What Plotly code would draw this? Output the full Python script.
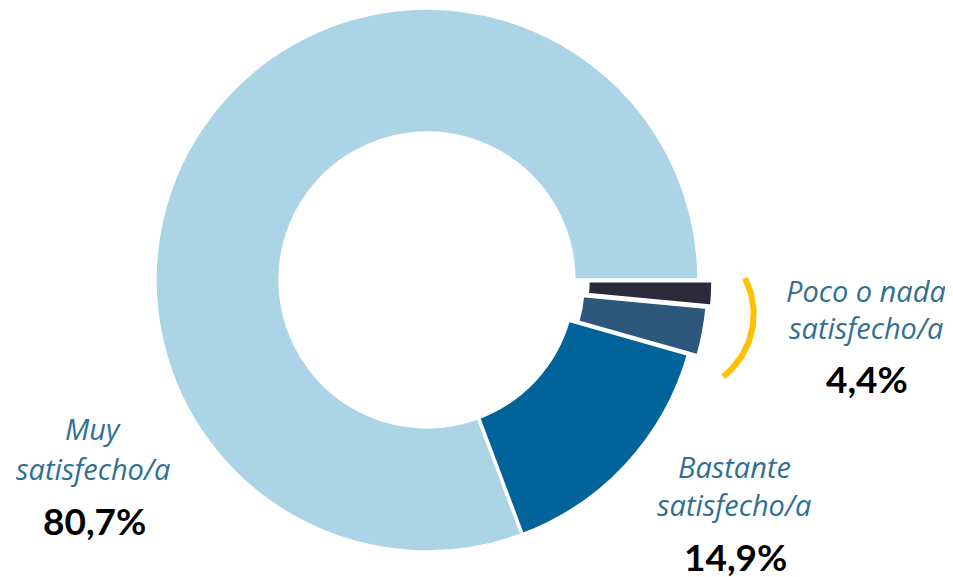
import numpy as np
import plotly.graph_objects as go

W, H = 953, 577
OFF = 8  # page body margin of the browser

categories = ["Muy satisfecho/a", "Bastante satisfecho/a", "Poco satisfecho/a", "Nada satisfecho/a"]
values = [80.7, 14.9, 2.9, 1.5]
colors = ["#ABD5E7", "#00649A", "#2D587B", "#2A2A3A"]
pull_px = [0, 0, 9.5, 14]   # radial explode of each slice, in pixels

label_lines = [["Muy", "satisfecho/a"], ["Bastante", "satisfecho/a"], ["Poco o nada", "satisfecho/a"]]
value_texts = ["80,7%", "14,9%", "4,4%"]

# pie geometry (pixels in the figure)
CX, CY, R = 427 - OFF, 280 - OFF, 272
HOLE = 0.54

total = sum(values)
# first slice starts at 3 o'clock and runs counterclockwise
rot = 90 - 360 * values[0] / total

def pie_domain(cx, cy):
    return dict(x=[(cx - 300) / W, (cx + 300) / W],
                y=[1 - (cy + R) / H, 1 - (cy - R) / H])

def pie_trace(visible_idx, cx, cy):
    cols = [c if i in visible_idx else "rgba(0,0,0,0)" for i, c in enumerate(colors)]
    lcols = ["white" if i in visible_idx else "rgba(0,0,0,0)" for i in range(len(colors))]
    return go.Pie(
        labels=categories, values=values, sort=False,
        direction="counterclockwise", rotation=rot, hole=HOLE,
        marker=dict(colors=cols, line=dict(color=lcols, width=3.5)),
        textinfo="none", hoverinfo="label+percent", showlegend=False,
        domain=pie_domain(cx, cy),
    )

fig = go.Figure()
# slices that are not exploded
fig.add_trace(pie_trace([i for i, p in enumerate(pull_px) if p == 0], CX, CY))
# exploded slices: same pie shifted along the slice bisector
cum = 0.0
for i, v in enumerate(values):
    mid = (cum + v / 2) / total * 2 * np.pi  # math angle (ccw from 3 o'clock)
    cum += v
    if pull_px[i] > 0:
        dx = pull_px[i] * np.cos(mid)
        dy = -pull_px[i] * np.sin(mid)
        fig.add_trace(pie_trace([i], CX + dx, CY + dy))

# decorative bracket arc (yellow) next to the small slices
acx, acy, ar = 674.3 - OFF, 314.2 - OFF, 79.4
t = np.radians(np.linspace(27, -52, 60))
fig.add_trace(go.Scatter(
    x=acx + ar * np.cos(t), y=acy - ar * np.sin(t),
    mode="lines", line=dict(color="#FFC000", width=6),
    hoverinfo="skip", showlegend=False,
))

label_x = [93, 734, 866]
label_y = [(428, 468), (466, 504), (290.5, 327)]
value_x = [94.5, 735, 866.5]
value_y = [521.5, 557.5, 380]

for lx, (y1, y2), lines in zip(label_x, label_y, label_lines):
    for ly, txt in zip((y1, y2), lines):
        fig.add_annotation(x=lx - OFF, y=ly - OFF, xref="x", yref="y", text="<i>" + txt + "</i>",
                           showarrow=False, font=dict(family="Open Sans", size=29, color="#31708F"))
for vx, vy, txt in zip(value_x, value_y, value_texts):
    fig.add_annotation(x=vx - OFF, y=vy - OFF - 1.5, xref="x", yref="y", text="<b>" + txt + "</b>",
                       showarrow=False, font=dict(family="Lato", size=37, color="#000000"))

fig.update_layout(
    width=W, height=H,
    margin=dict(l=0, r=0, t=0, b=0),
    paper_bgcolor="white", plot_bgcolor="rgba(0,0,0,0)",
    xaxis=dict(range=[0, W], visible=False, fixedrange=True),
    yaxis=dict(range=[H, 0], visible=False, fixedrange=True),
)

fig.write_html("out.html")
